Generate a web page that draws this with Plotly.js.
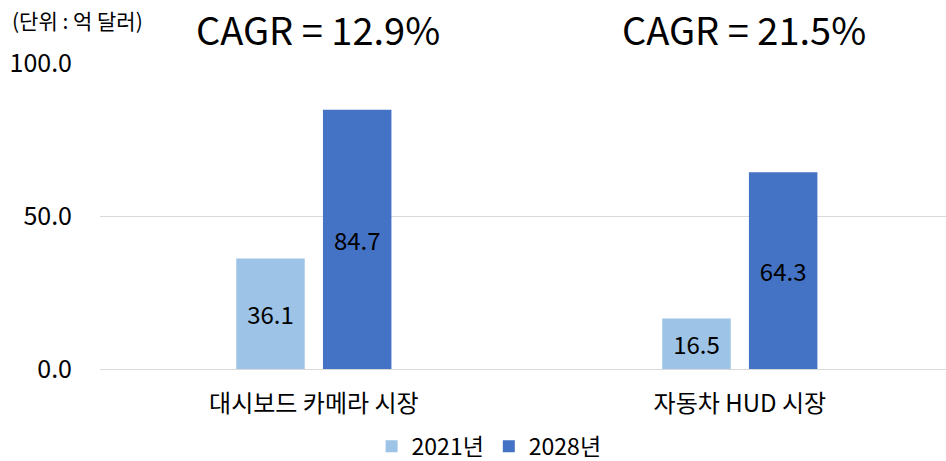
<!DOCTYPE html>
<html><head><meta charset="utf-8">
<script src="https://cdn.plot.ly/plotly-3.0.1.min.js"></script>
<style>html,body{margin:0;padding:0;background:#fff}#chart{width:946px;height:461px}</style>
</head><body><div id="chart"></div>
<script>
const categories = ['대시보드 카메라 시장', '자동차 HUD 시장'];
const series2021 = [36.1, 16.5];
const series2028 = [84.7, 64.3];
const seriesNames = ['2021년', '2028년'];
const cagrLabels = ['CAGR = 12.9%', 'CAGR = 21.5%'];
const yTicks = [0, 50, 100];
const yTickLabels = ['0.0', '50.0', '100.0'];
const unitLabel = '(단위 : 억 달러)';

const FONT = '"Noto Sans CJK KR", "Noto Sans", sans-serif';
const traces = [
  {type:'bar', name:seriesNames[0], x:[0,1], y:series2021,
   marker:{color:'#9DC3E6'}, text:series2021.map(v=>v.toFixed(1)),
   textposition:'inside', insidetextanchor:'middle', textangle:0,
   textfont:{family:FONT, size:24, color:'#000'}, hoverinfo:'none'},
  {type:'bar', name:seriesNames[1], x:[0,1], y:series2028,
   marker:{color:'#4472C4'}, text:series2028.map(v=>v.toFixed(1)),
   textposition:'inside', insidetextanchor:'middle', textangle:0,
   textfont:{family:FONT, size:24, color:'#000'}, hoverinfo:'none'}
];
const annotations = cagrLabels.map((t,i)=>({
  x:i, xref:'x', xshift:4, y:1.0, yref:'paper', yanchor:'bottom', yshift:5,
  text:t, showarrow:false, font:{family:FONT, size:38, color:'#000'}
}));
annotations.push({x:(10-100)/846, xref:'paper', xanchor:'left', y:1.0, yref:'paper', yanchor:'bottom', yshift:26,
  text:unitLabel, showarrow:false, font:{family:FONT, size:21, color:'#000'}});
const layout = {
  width:946, height:461, margin:{l:100, r:0, t:63, b:92},
  paper_bgcolor:'#fff', plot_bgcolor:'#fff',
  font:{family:FONT, color:'#000'},
  barmode:'group', bargap:0.593, bargroupgap:0.21,
  showlegend:true,
  legend:{orientation:'h', x:0.517, xanchor:'center', xref:'container', y:0.032, yref:'container', yanchor:'middle',
    font:{family:FONT, size:23, color:'#000'}, itemwidth:30, tracegroupgap:0, borderwidth:0},
  xaxis:{range:[-0.502, 1.484], tickvals:[0,1], ticktext:categories, showline:false, showgrid:false, zeroline:false, ticks:'',
    tickfont:{family:FONT, size:24, color:'#000'}, ticklabelstandoff:18},
  yaxis:{range:[0,100], tickvals:yTicks, ticktext:yTickLabels, showgrid:true, gridcolor:'#d9d9d9', gridwidth:1,
    zeroline:true, zerolinecolor:'#d9d9d9', zerolinewidth:1, showline:false, ticks:'',
    tickfont:{family:FONT, size:25, color:'#000'}, ticklabelstandoff:27},
  annotations:annotations
};
Plotly.newPlot('chart', traces, layout, {displayModeBar:false, staticPlot:true});
</script></body></html>
